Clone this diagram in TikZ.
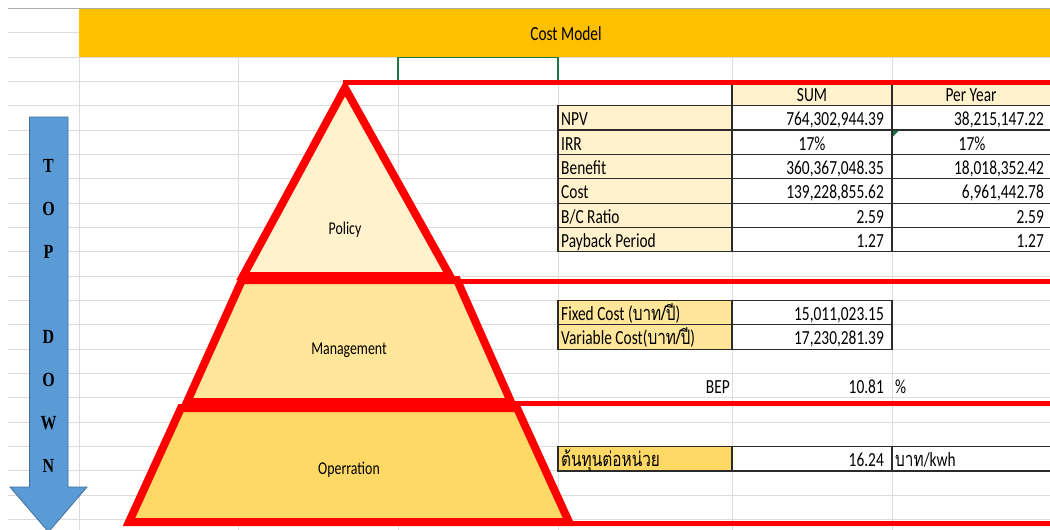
\documentclass[tikz,border=0pt]{standalone}
\usepackage{fontspec}
\setmainfont{Carlito}[FakeStretch=0.77]
\newfontfamily\thaifont{Loma}[Script=Thai,FakeStretch=0.77]
\newfontfamily\serifbold{Liberation Serif}[FakeStretch=0.8]
\definecolor{gridgray}{HTML}{DCDCDC}
\definecolor{topgray}{HTML}{ABABAB}
\definecolor{xlorange}{HTML}{FFC000}
\definecolor{xlgreen}{HTML}{217346}
\definecolor{creamfill}{HTML}{FFF2CC}
\definecolor{yelfill}{HTML}{FFE699}
\definecolor{goldfill}{HTML}{FFD966}
\definecolor{xlred}{HTML}{FF0000}
\definecolor{arrowblue}{HTML}{5B9BD5}
\definecolor{arrowedge}{HTML}{41719C}
\definecolor{bordergray}{HTML}{2B2B2B}
\begin{document}
\begin{tikzpicture}[x=1pt,y=-1pt,
  gridline/.style={draw=gridgray, line width=1pt},
  cellbox/.style={draw=bordergray, line width=1.2pt},
  redline/.style={draw=xlred, line width=5pt},
  pyrshape/.style={draw=xlred, line width=8pt, line join=miter},
  txt/.style={inner sep=0pt, font=\fontsize{20}{24}\selectfont},
  lbl/.style={inner sep=0pt, font=\fontsize{18}{22}\selectfont},
  arrletter/.style={inner sep=0pt, font=\serifbold\bfseries\fontsize{20}{24}\selectfont},
]
\useasboundingbox (0,0) rectangle (1050,530);
\fill[white] (0,0) rectangle (1050,530);
% spreadsheet grid
\foreach \k in {1,...,21} \draw[gridline] (8,{8.3+24.35*\k}) -- (1050,{8.3+24.35*\k});
\foreach \x in {79,238,398,558,732,892} \draw[gridline] (\x,57) -- (\x,530);
\draw[draw=topgray, line width=1.3pt] (8,8.3) -- (1050,8.3);
% title band
\fill[xlorange] (79,9) rectangle (1052,57);
\node[txt, anchor=base] (title) at (566,40) {Cost Model};
% selected cell
\draw[draw=xlgreen, line width=1.6pt] (398,82) -- (398,57.6) -- (558,57.6) -- (558,82);

% ---- table 1
\filldraw[cellbox, fill=creamfill] (732,82) rectangle (892,105.7);
\filldraw[cellbox, fill=creamfill] (892,82) rectangle (1053,105.7);
\node[txt, anchor=base] (hsum) at (812,101.4) {SUM};
\node[txt, anchor=base] (hyear) at (971,101.4) {Per Year};
\foreach \i in {0,...,5} {
  \filldraw[cellbox, fill=creamfill] (558,{105.7+24.35*\i}) rectangle (732,{130.05+24.35*\i});
  \filldraw[cellbox, fill=white] (732,{105.7+24.35*\i}) rectangle (892,{130.05+24.35*\i});
  \filldraw[cellbox, fill=white] (892,{105.7+24.35*\i}) rectangle (1053,{130.05+24.35*\i});
}
\fill[xlgreen] (893,130.7) -- (899,130.7) -- (893,136.7) -- cycle;
\node[txt, anchor=base west] (npv) at (561,125.75) {NPV};
\node[txt, anchor=base east] (npvs) at (884,125.75) {764,302,944.39};
\node[txt, anchor=base east] (npvy) at (1044,125.75) {38,215,147.22};
\node[txt, anchor=base west] (irr) at (561,150.1) {IRR};
\node[txt, anchor=base] (irrs) at (812,150.1) {17\%};
\node[txt, anchor=base] (irry) at (972,150.1) {17\%};
\node[txt, anchor=base west] (ben) at (561,174.45) {Benefit};
\node[txt, anchor=base east] (bens) at (884,174.45) {360,367,048.35};
\node[txt, anchor=base east] (beny) at (1044,174.45) {18,018,352.42};
\node[txt, anchor=base west] (cost) at (561,198.8) {Cost};
\node[txt, anchor=base east] (costs) at (884,198.8) {139,228,855.62};
\node[txt, anchor=base east] (costy) at (1044,198.8) {6,961,442.78};
\node[txt, anchor=base west] (bc) at (561,223.15) {B/C Ratio};
\node[txt, anchor=base east] (bcs) at (884,223.15) {2.59};
\node[txt, anchor=base east] (bcy) at (1044,223.15) {2.59};
\node[txt, anchor=base west] (pb) at (561,247.5) {Payback Period};
\node[txt, anchor=base east] (pbs) at (884,247.5) {1.27};
\node[txt, anchor=base east] (pby) at (1044,247.5) {1.27};

% ---- table 2
\filldraw[cellbox, fill=yelfill] (558,300.5) rectangle (732,324.85);
\filldraw[cellbox, fill=white] (732,300.5) rectangle (892,324.85);
\filldraw[cellbox, fill=yelfill] (558,324.85) rectangle (732,349.2);
\filldraw[cellbox, fill=white] (732,324.85) rectangle (892,349.2);
\node[txt, anchor=base west] (fc) at (561,320.55) {Fixed Cost ({\thaifont บาท/ปี})};
\node[txt, anchor=base east] (fcv) at (884,320.55) {15,011,023.15};
\node[txt, anchor=base west] (vc) at (561,344.9) {Variable Cost({\thaifont บาท/ปี})};
\node[txt, anchor=base east] (vcv) at (884,344.9) {17,230,281.39};
\node[txt, anchor=base east] (bep) at (730,393.6) {BEP};
\node[txt, anchor=base east] (bepv) at (884,393.6) {10.81};
\node[txt, anchor=base west] (bepu) at (895,393.6) {\%};

% ---- table 3
\filldraw[cellbox, fill=goldfill] (558,446.6) rectangle (732,470.95);
\filldraw[cellbox, fill=white] (732,446.6) rectangle (892,470.95);
\filldraw[cellbox, fill=white] (892,446.6) rectangle (1053,470.95);
\node[txt, anchor=base west] (unit) at (561,466.65) {\thaifont ต้นทุนต่อหน่วย};
\node[txt, anchor=base east] (unitv) at (884,466.65) {16.24};
\node[txt, anchor=base west] (unitu) at (895,466.65) {{\thaifont บาท}/kwh};

% ---- red separator lines
\coordinate (l1a) at (343,82.5);  \coordinate (l1b) at (1053,82.5);
\coordinate (l2a) at (452,281);   \coordinate (l2b) at (1053,281);
\coordinate (l3a) at (512,403.5); \coordinate (l3b) at (1053,403.5);
\coordinate (l4a) at (569,523);   \coordinate (l4b) at (1053,523);
\draw[redline] (l1a) -- (l1b);
\draw[redline] (l2a) -- (l2b);
\draw[redline] (l3a) -- (l3b);
\draw[redline] (l4a) -- (l4b);

% ---- pyramid
\coordinate (pa) at (345,88);  \coordinate (pbr) at (450,276); \coordinate (pbl) at (243,276);
\coordinate (ma) at (242,280); \coordinate (mb) at (457,280);
\coordinate (mc) at (511,402); \coordinate (md) at (187,402);
\coordinate (oa) at (181,408); \coordinate (ob) at (517,408);
\coordinate (oc) at (569,522); \coordinate (od) at (129,522);
\filldraw[pyrshape, fill=creamfill] (pa) -- (pbr) -- (pbl) -- cycle;
\filldraw[pyrshape, fill=yelfill] (ma) -- (mb) -- (mc) -- (md) -- cycle;
\filldraw[pyrshape, fill=goldfill] (oa) -- (ob) -- (oc) -- (od) -- cycle;
\node[lbl] (policy) at (345,230) {Policy};
\node[lbl] (mgmt) at (349,350) {Management};
\node[lbl] (oper) at (349,470) {Operration};

% ---- top-down arrow
\filldraw[fill=arrowblue, draw=arrowedge, line width=0.8pt]
  (29.5,117) -- (68,117) -- (68,487) -- (87,487) -- (48.5,532) -- (10,487) -- (29.5,487) -- cycle;
\node[arrletter] (t1) at (48.5,166) {T};
\node[arrletter] (t2) at (48.5,209) {O};
\node[arrletter] (t3) at (48.5,252) {P};
\node[arrletter] (d1) at (48.5,337) {D};
\node[arrletter] (d2) at (48.5,380) {O};
\node[arrletter] (d3) at (48.5,423) {W};
\node[arrletter] (d4) at (48.5,466) {N};
\end{tikzpicture}
\end{document}
